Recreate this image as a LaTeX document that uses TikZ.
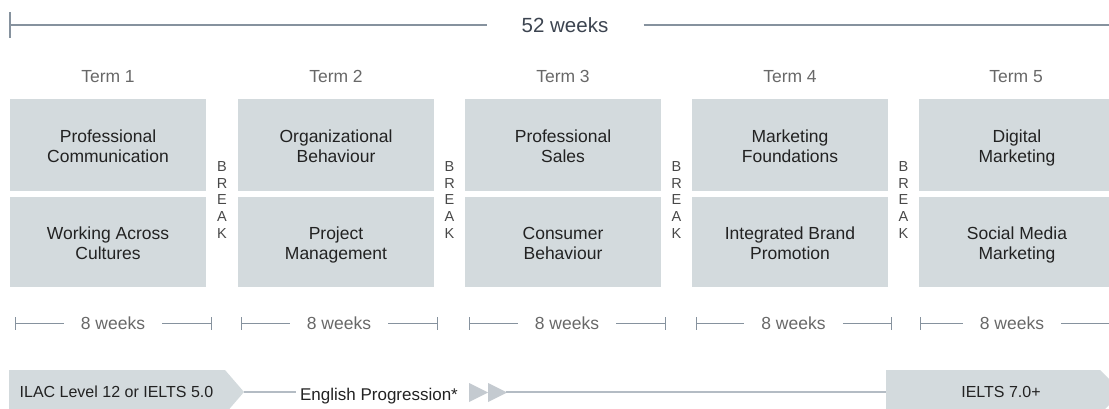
\documentclass[tikz,border=0pt]{standalone}
\usepackage{fontspec}
\setmainfont{Liberation Sans}
\definecolor{boxfill}{RGB}{211,218,221}
\definecolor{boxtext}{RGB}{34,34,34}
\definecolor{termtext}{RGB}{104,104,104}
\definecolor{toptext}{RGB}{60,68,80}
\definecolor{breaktext}{RGB}{72,72,72}
\definecolor{rulecol}{RGB}{134,146,158}
\definecolor{lightrule}{RGB}{180,188,196}
\definecolor{trifill}{RGB}{196,202,208}
\newcommand{\twolines}[2]{\strut #1\\\strut #2}
\begin{document}
\begin{tikzpicture}[x=1pt,y=-1pt,
  course/.style={fill=boxfill, minimum width=196, inner sep=0pt},
  topcourse/.style={course, minimum height=92},
  botcourse/.style={course, minimum height=90},
  coursetext/.style={align=center, inner sep=0pt, text=boxtext, font=\fontsize{17.5}{20}\selectfont},
  termlabel/.style={text=termtext, font=\fontsize{17.5}{20}\selectfont, inner sep=0pt, text height=12.5pt, text depth=0pt},
  breaklabel/.style={text=breaktext, align=center, inner sep=0pt, font=\fontsize{14.5}{16.7}\selectfont},
  weeklabel/.style={text=termtext, font=\fontsize{17.5}{20}\selectfont, inner ysep=0pt, inner xsep=17pt, text height=12.5pt, text depth=0pt},
  weekline/.style={draw=rulecol, line width=0.9pt},
  topline/.style={draw=rulecol, line width=1.5pt},
  englabel/.style={text=boxtext, font=\fontsize{16}{19}\selectfont, inner sep=0pt, text height=11.5pt, text depth=0pt},
  progline/.style={draw=lightrule, line width=1.3pt}
]
\useasboundingbox (0,0) rectangle (1109,409);
\clip (0,0) rectangle (1109,409);

% ---- 52 weeks ruler
\coordinate (topL) at (10,25);
\coordinate (topR) at (1109,25);
\node[text=toptext, font=\fontsize{20.5}{24}\selectfont, inner ysep=0pt, inner xsep=35pt, text height=14.5pt, text depth=0pt] (total) at (565,25) {52 weeks};
\draw[topline] (topL) -- (total.west);
\draw[topline] (total.east) -- (topR);
\draw[topline] ([yshift=-13pt]topL) -- ([yshift=13pt]topL);

% ---- terms
\foreach \i/\cx in {1/108,2/336,3/563,4/790,5/1016}{
  \node[termlabel] (term\i) at (\cx,76) {Term \i};
}
% ---- course boxes
\foreach \n/\cx in {1/108,2/336,3/563,4/790,5/1017}{
  \node[topcourse] (c\n a) at (\cx,145) {};
  \node[botcourse] (c\n b) at (\cx,242) {};
}
\node[coursetext] (t1a) at ([yshift=-3.3pt]c1a.center) {\twolines{Professional}{Communication}};
\node[coursetext] (t1b) at ([yshift=-3.3pt]c1b.center) {\twolines{Working Across}{Cultures}};
\node[coursetext] (t2a) at ([yshift=-3.3pt]c2a.center) {\twolines{Organizational}{Behaviour}};
\node[coursetext] (t2b) at ([yshift=-3.3pt]c2b.center) {\twolines{Project}{Management}};
\node[coursetext] (t3a) at ([yshift=-3.3pt]c3a.center) {\twolines{Professional}{Sales}};
\node[coursetext] (t3b) at ([yshift=-3.3pt]c3b.center) {\twolines{Consumer}{Behaviour}};
\node[coursetext] (t4a) at ([yshift=-3.3pt]c4a.center) {\twolines{Marketing}{Foundations}};
\node[coursetext] (t4b) at ([yshift=-3.3pt]c4b.center) {\twolines{Integrated Brand}{Promotion}};
\node[coursetext] (t5a) at ([yshift=-3.3pt]c5a.center) {\twolines{Digital}{Marketing}};
\node[coursetext] (t5b) at ([yshift=-3.3pt]c5b.center) {\twolines{Social Media}{Marketing}};

% ---- breaks
\foreach \j/\bx in {1/222,2/449.5,3/676.5,4/903.5}{
  \node[breaklabel] (brk\j) at (\bx,200) {B\\R\\E\\A\\K};
}

% ---- 8 weeks rulers
\foreach \k/\l/\r in {1/15/211,2/241/437,3/469/665,4/696/891}{
  \coordinate (wl\k) at (\l,323);
  \coordinate (wr\k) at (\r,323);
  \node[weeklabel] (wk\k) at ({(\l+\r)/2},323) {8 weeks};
  \draw[weekline] (wl\k) -- (wk\k.west);
  \draw[weekline] (wk\k.east) -- (wr\k);
  \draw[weekline] ([yshift=-6.5pt]wl\k) -- ([yshift=6.5pt]wl\k);
  \draw[weekline] ([yshift=-6.5pt]wr\k) -- ([yshift=6.5pt]wr\k);
}
\coordinate (wl5) at (920,323);
\coordinate (wr5) at (1109,323);
\node[weeklabel] (wk5) at (1012,323) {8 weeks};
\draw[weekline] (wl5) -- (wk5.west);
\draw[weekline] (wk5.east) -- (wr5);
\draw[weekline] ([yshift=-6.5pt]wl5) -- ([yshift=6.5pt]wl5);

% ---- English progression
\fill[boxfill] (9,370) -- (225,370) -- (244,392) -- (225,414) -- (9,414) -- cycle;
\coordinate (ilacTip) at (244,392);
\node[englabel] (ilac) at (116.5,392) {ILAC Level 12 or IELTS 5.0};
\node[englabel, font=\fontsize{17}{20}\selectfont, text height=12.2pt, inner xsep=4pt] (prog) at (379,394) {English Progression*};
\draw[progline] (ilacTip) -- (ilacTip -| prog.west);
\fill[trifill] (469,383) -- (488,392.5) -- (469,402) -- cycle;
\fill[trifill] (488,383) -- (507,392.5) -- (488,402) -- cycle;
\coordinate (triTip) at (506,392);
\fill[boxfill] (886,370) -- (1100,370) -- (1122,392) -- (1100,414) -- (886,414) -- cycle;
\coordinate (ieltsL) at (886,392);
\node[englabel] (ielts) at (1001,392) {IELTS 7.0+};
\draw[progline] (triTip) -- (ieltsL);
\end{tikzpicture}
\end{document}
